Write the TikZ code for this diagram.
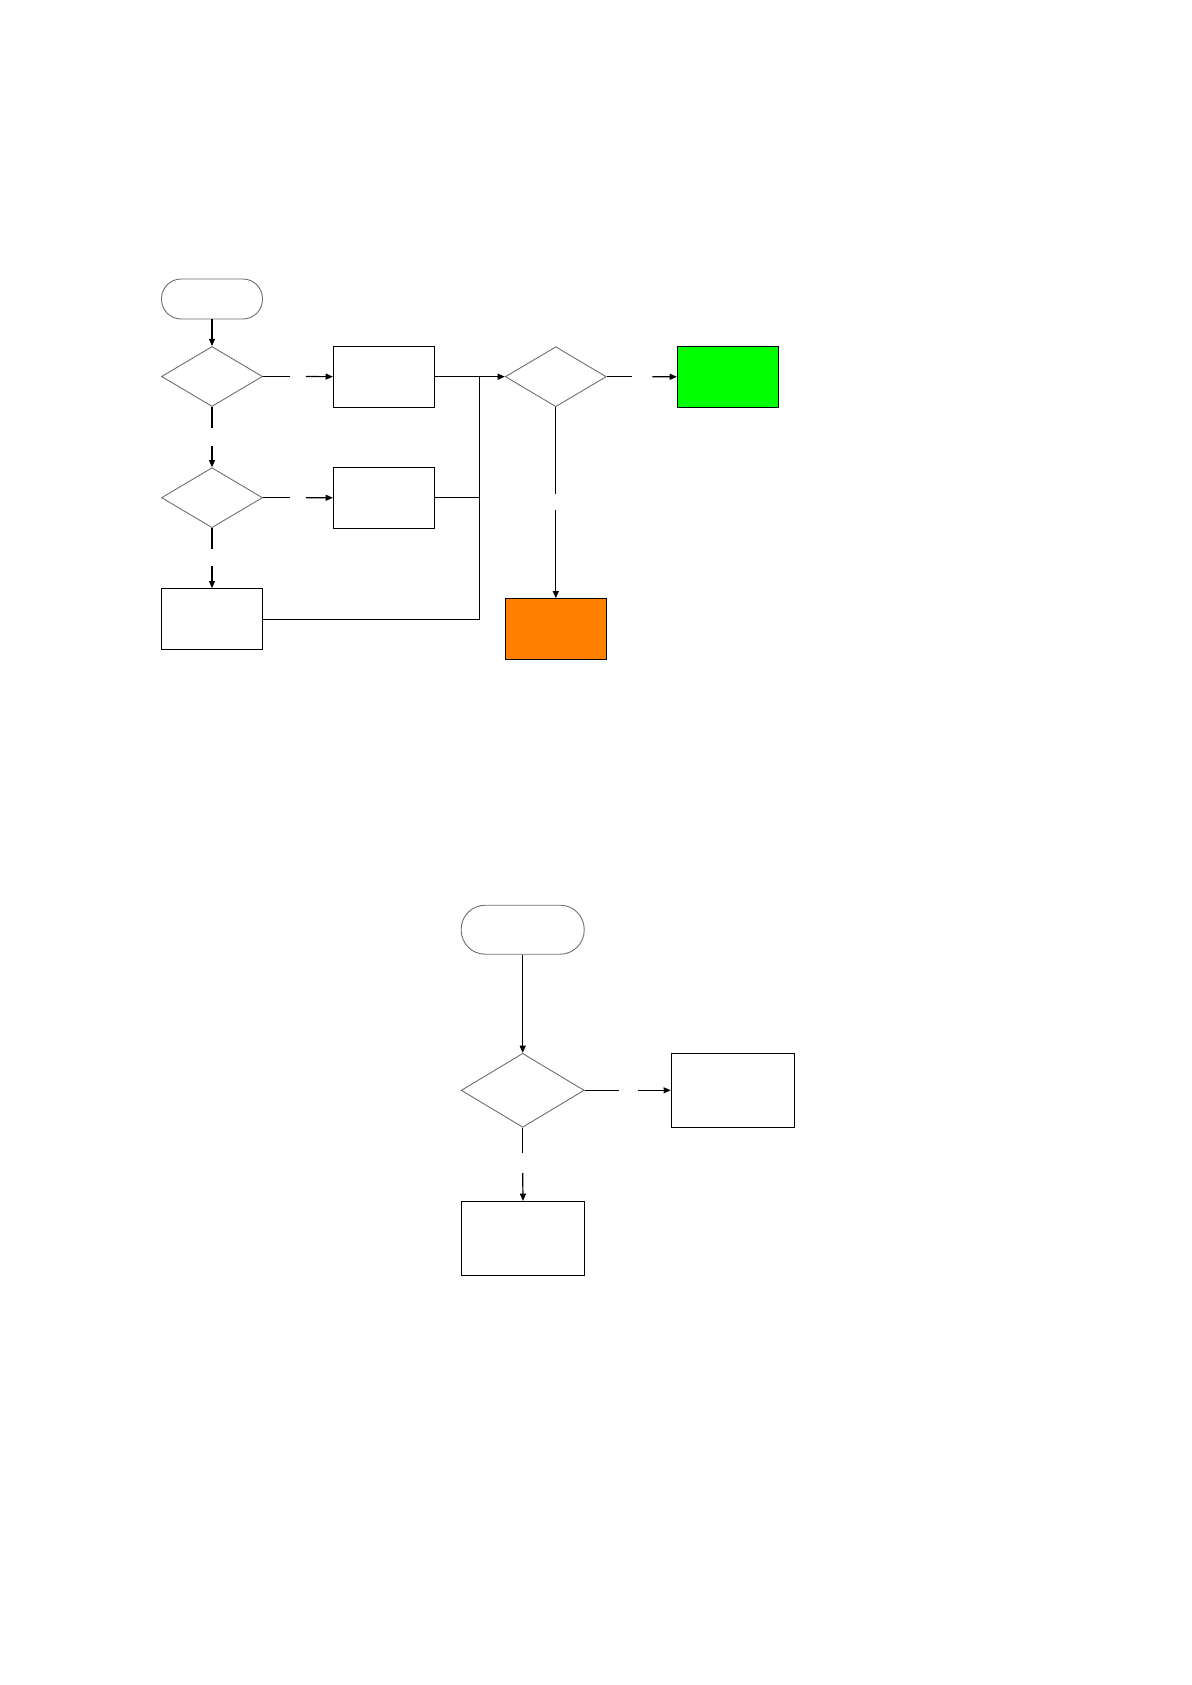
\documentclass[tikz,border=0pt]{standalone}
\usepackage{tikz}
\usetikzlibrary{arrows.meta, positioning, shapes.geometric, calc}
\definecolor{okgreen}{RGB}{0,255,0}
\definecolor{failorange}{RGB}{255,128,0}
\definecolor{outline}{RGB}{110,110,110}
\tikzset{
  box/.style   = {draw=black, line width=0.6pt, inner sep=0pt,
                  minimum width=50.5pt, minimum height=30.5pt},
  bigbox/.style = {box, minimum width=61.5pt, minimum height=37pt},
  term/.style  = {draw=outline, line width=0.45pt, inner sep=0pt, rounded corners=9.8pt,
                  minimum width=50.5pt, minimum height=20pt},
  bigterm/.style = {term, rounded corners=12pt, minimum width=61.5pt, minimum height=24.5pt},
  dec/.style   = {diamond, draw=outline, line width=0.45pt, inner sep=0pt,
                  minimum width=50.5pt, minimum height=30pt},
  bigdec/.style = {dec, minimum width=61.5pt, minimum height=37pt},
  arrow/.style = {-{Triangle[length=3.6pt, width=3pt]}, line width=0.6pt},
  wire/.style  = {line width=0.6pt},
}
\begin{document}
\begin{tikzpicture}[x=0.5pt, y=-0.5pt]
  \useasboundingbox (0,0) rectangle (1191,1685);

  % upper chart
  \node[term] (start1) at (212,299) {};
  \node[dec]  (dec1)   at (212,376.5) {};
  \node[dec]  (dec2)   at (212,497.7) {};
  \node[box]  (box3)   at (212,619.3) {};
  \node[box]  (box1)   at (384,376.7) {};
  \node[box]  (box2)   at (384,497.8) {};
  \node[dec]  (dec3)   at (555.8,376.7) {};
  \node[box, fill=okgreen]    (okbox)   at (728,376.8) {};
  \node[box, fill=failorange] (failbox) at (555.8,629.3) {};
  \coordinate (jn) at ($(box1.east)+(44,0)$);

  \draw[arrow] (start1) -- (dec1);
  \draw[wire]  (dec1.east) -- ($(dec1.east)+(27,0)$);
  \draw[arrow] ($(dec1.east)+(43,0)$) -- (box1.west);
  \draw[wire]  (dec1.south) -- ($(dec1.south)+(0,21)$);
  \draw[arrow] ($(dec1.south)+(0,39)$) -- (dec2.north);
  \draw[wire]  (dec2.east) -- ($(dec2.east)+(27,0)$);
  \draw[arrow] ($(dec2.east)+(43,0)$) -- (box2.west);
  \draw[wire]  (dec2.south) -- ($(dec2.south)+(0,21)$);
  \draw[arrow] ($(dec2.south)+(0,38)$) -- (box3.north);
  % merge into the check
  \draw[wire]  (box1.east) -- (jn);
  \draw[wire]  (box2.east) -| (jn);
  \draw[wire]  (box3.east) -| (jn);
  \draw[arrow] (jn) -- (dec3.west);
  \draw[wire]  (dec3.east) -- ($(dec3.east)+(25,0)$);
  \draw[arrow] ($(dec3.east)+(45.6,0)$) -- (okbox.west);
  \draw[wire]  (dec3.south) -- ($(dec3.south)+(0,86.6)$);
  \draw[arrow] ($(dec3.south)+(0,103.3)$) -- (failbox.north);

  % lower chart
  \node[bigterm] (start2) at (522.7,929.7) {};
  \node[bigdec]  (dec4)   at (522.7,1090.3) {};
  \node[bigbox]  (box4)   at (732.8,1090.3) {};
  \node[bigbox]  (box5)   at (523,1238.5) {};

  \draw[arrow] (start2) -- (dec4);
  \draw[wire]  (dec4.east) -- ($(dec4.east)+(34,0)$);
  \draw[arrow] ($(dec4.east)+(53,0)$) -- (box4.west);
  \draw[wire]  (dec4.south) -- ($(dec4.south)+(0,25.4)$);
  \draw[arrow] ($(dec4.south)+(0,45.4)$) -- (box5.north);
\end{tikzpicture}
\end{document}
